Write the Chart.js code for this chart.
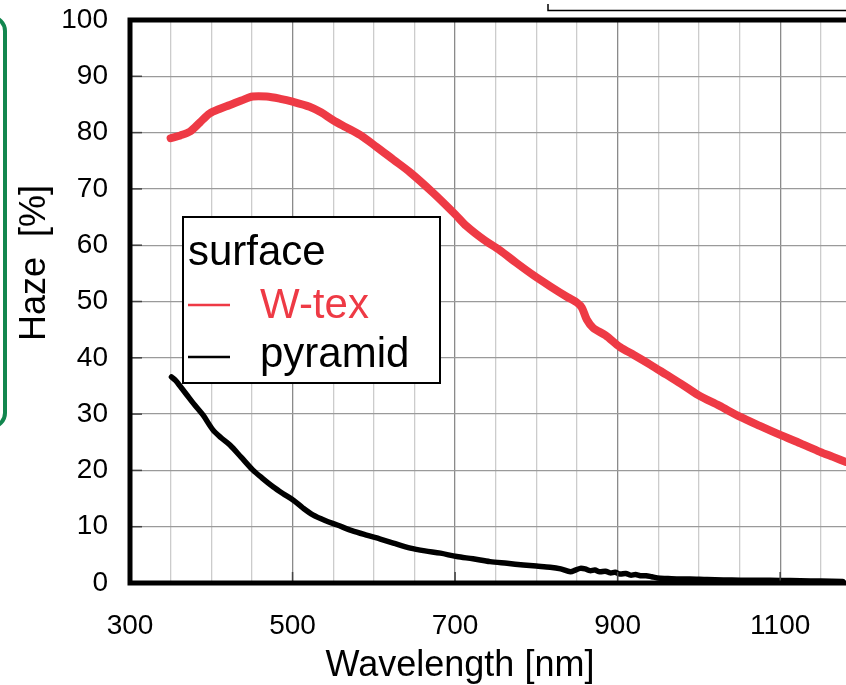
<!DOCTYPE html>
<html>
<head>
<meta charset="utf-8">
<script src="https://cdn.jsdelivr.net/npm/chart.js@4/dist/chart.umd.min.js"></script>
<style>
html,body{margin:0;padding:0;background:#fff;overflow:hidden;}
canvas{display:block;}
</style>
</head>
<body>
<canvas id="c" width="846" height="685"></canvas>
<script>
// ---- data ----
const seriesNames = ['W-tex', 'pyramid'];
const legendTitle = 'surface';
const xTitle = 'Wavelength [nm]';
const yTitle = 'Haze  [%]';

const wtexWavelength = [350,362,374,386,398,410,423,437,451,468,485,500,521,535,550,565,583,603,624,645,673,700,714,735,755,775,796,817,838,850,856,862,870,885,903,920,940,960,980,999,1025,1051,1075,1100,1125,1149,1165,1181];
const wtexHaze = [79.0,79.5,80.2,81.8,83.4,84.2,84.9,85.7,86.4,86.4,86.0,85.5,84.6,83.6,82.2,81.0,79.6,77.5,75.2,72.9,69.3,65.5,63.4,61.0,59.1,56.9,54.7,52.7,50.8,49.8,48.9,46.8,45.3,44.0,41.9,40.5,38.8,37.0,35.2,33.4,31.5,29.5,27.9,26.3,24.8,23.3,22.4,21.5];

const pyrWavelength = [351,356,362,370,378,390,402,412,423,437,451,463,476,488,501,513,525,540,555,573,591,608,624,645,663,682,702,722,743,764,784,800,817,830,842,848,854,860,866,872,878,885,891,897,903,910,916,922,928,935,942,949,960,975,989,1010,1030,1051,1075,1100,1125,1150,1177];
const pyrHaze = [36.6,36.0,34.9,33.4,31.9,29.8,27.2,25.8,24.5,22.3,20.1,18.6,17.1,15.9,14.7,13.3,12.1,11.1,10.3,9.3,8.5,7.8,7.1,6.2,5.7,5.3,4.7,4.3,3.8,3.5,3.2,3.0,2.8,2.5,2.0,2.3,2.6,2.5,2.2,2.3,2.0,2.1,1.8,1.9,1.6,1.7,1.4,1.5,1.3,1.3,1.1,0.9,0.8,0.7,0.7,0.6,0.55,0.5,0.5,0.45,0.4,0.35,0.25];

const xMin = 300, xMax = 1181, xStep = 50, xLabelStep = 200;
const yMin = 0, yMax = 100, yStep = 10;

// ---- styles ----
const RED = '#EE3A45';
const BLACK = '#000000';
const GREEN = '#12864E';
const FONT = "'Liberation Sans', Arial, sans-serif";

const toPts = (xs, ys) => xs.map((x, i) => ({x, y: ys[i]}));

const framePlugin = {
  id: 'frame',
  afterDatasetsDraw(chart) {
    const ctx = chart.ctx;
    const a = chart.chartArea;
    const xs = chart.scales.x, ys = chart.scales.y;
    ctx.save();
    // inner tick marks
    ctx.strokeStyle = '#444';
    ctx.lineWidth = 1.5;
    for (let v = yMin + yStep; v < yMax; v += yStep) {
      const py = ys.getPixelForValue(v);
      ctx.beginPath(); ctx.moveTo(a.left, py); ctx.lineTo(a.left + 12, py); ctx.stroke();
    }
    for (let v = xMin + xLabelStep; v <= xMax; v += xLabelStep) {
      const px = xs.getPixelForValue(v);
      ctx.beginPath(); ctx.moveTo(px, a.bottom); ctx.lineTo(px, a.bottom - 11); ctx.stroke();
    }
    // thick frame: left, bottom, top
    ctx.strokeStyle = '#000';
    ctx.lineWidth = 5;
    ctx.beginPath();
    ctx.moveTo(a.right + 5, a.top);
    ctx.lineTo(a.left, a.top);
    ctx.lineTo(a.left, a.bottom);
    ctx.lineTo(a.right + 5, a.bottom);
    ctx.stroke();

    // legend box
    const lx = 183, ly = 217, lw = 257, lh = 166;
    ctx.fillStyle = '#fff';
    ctx.fillRect(lx, ly, lw, lh);
    ctx.lineWidth = 2;
    ctx.strokeStyle = '#000';
    ctx.strokeRect(lx, ly, lw, lh);
    ctx.font = '42px ' + FONT;
    ctx.textBaseline = 'alphabetic';
    ctx.textAlign = 'left';
    ctx.fillStyle = '#000';
    ctx.fillText(legendTitle, 188, 265);
    const rows = [{base: 318, line: 305}, {base: 367, line: 357}];
    chart.data.datasets.forEach((ds, i) => {
      const r = rows[i];
      ctx.strokeStyle = ds.borderColor;
      ctx.lineWidth = 2.5;
      ctx.beginPath(); ctx.moveTo(188, r.line); ctx.lineTo(230, r.line); ctx.stroke();
      ctx.fillStyle = ds.borderColor;
      ctx.fillText(ds.label, 260, r.base);
    });

    // axis titles
    ctx.fillStyle = '#000';
    ctx.font = '36px ' + FONT;
    ctx.textAlign = 'center';
    ctx.fillText(xTitle, 460, 676);
    ctx.save();
    ctx.translate(45, 263);
    ctx.rotate(-Math.PI / 2);
    ctx.fillText(yTitle, 0, 0);
    ctx.restore();

    // green rounded box (cut at left edge)
    ctx.strokeStyle = GREEN;
    ctx.lineWidth = 4;
    ctx.beginPath();
    ctx.roundRect(-100, 17, 105, 410, 14);
    ctx.stroke();

    // top-right box corner
    ctx.strokeStyle = '#000';
    ctx.lineWidth = 1.5;
    ctx.beginPath();
    ctx.moveTo(548, 4); ctx.lineTo(548, 10.5); ctx.lineTo(850, 10.5);
    ctx.stroke();
    ctx.restore();
  }
};

new Chart(document.getElementById('c'), {
  type: 'line',
  data: {
    datasets: [
      { label: seriesNames[0], data: toPts(wtexWavelength, wtexHaze), borderColor: RED, borderWidth: 8, pointRadius: 0, tension: 0.3, fill: false, borderCapStyle: 'round', borderJoinStyle: 'round' },
      { label: seriesNames[1], data: toPts(pyrWavelength, pyrHaze), borderColor: BLACK, borderWidth: 5.5, pointRadius: 0, tension: 0.3, fill: false, borderCapStyle: 'round', borderJoinStyle: 'round' }
    ]
  },
  options: {
    responsive: false,
    animation: false,
    layout: { padding: { top: 20, right: 0, left: 0, bottom: 0 } },
    plugins: { legend: { display: false }, tooltip: { enabled: false } },
    scales: {
      x: {
        type: 'linear', min: xMin, max: xMax,
        afterBuildTicks(s) {
          const t = [];
          for (let v = xMin; v <= xMax; v += xStep) t.push({value: v});
          s.ticks = t;
        },
        afterFit(s) { s.height = 102; s.paddingLeft = 0; s.paddingRight = 0; },
        border: { display: false },
        grid: {
          drawTicks: false,
          lineWidth: 1.3,
          color(c) {
            const v = c.tick ? c.tick.value : 0;
            if (v === xMin) return 'rgba(0,0,0,0)';
            return ((v - xMin) % xLabelStep === 0) ? '#8a8a8a' : '#cccccc';
          }
        },
        ticks: {
          autoSkip: false, maxRotation: 0, padding: 26, color: '#000',
          font: { size: 28, family: FONT },
          callback(v) { return ((v - xMin) % xLabelStep === 0) ? String(v) : ''; }
        }
      },
      y: {
        min: yMin, max: yMax,
        afterFit(s) { s.width = 130; s.paddingTop = 0; s.paddingBottom = 0; },
        border: { display: false },
        grid: { drawTicks: false, color: '#9a9a9a', lineWidth: 1.3 },
        ticks: { stepSize: yStep, padding: 22, color: '#000', font: { size: 28, family: FONT } }
      }
    }
  },
  plugins: [framePlugin]
});
</script>
</body>
</html>
